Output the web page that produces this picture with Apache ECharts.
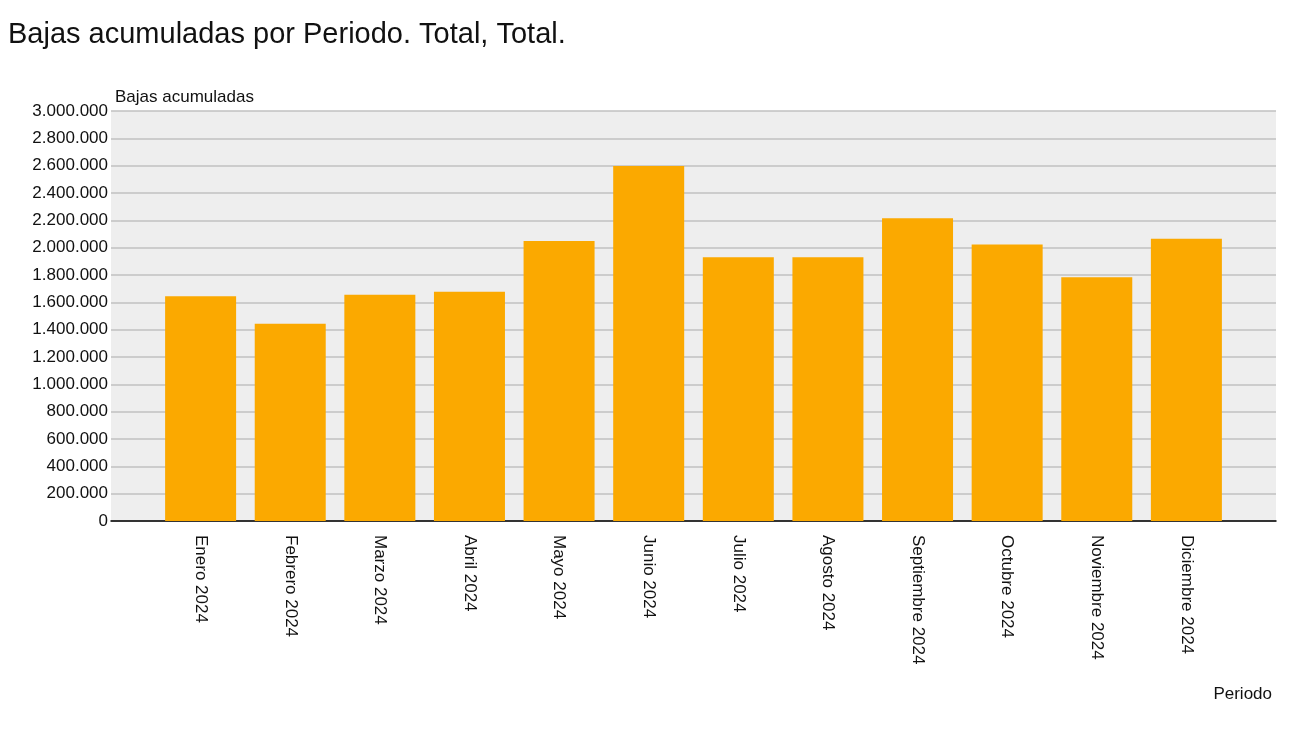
<!DOCTYPE html>
<html>
<head>
<meta charset="utf-8">
<script src="https://cdn.jsdelivr.net/npm/echarts@6/dist/echarts.min.js"></script>
<style>
html,body{margin:0;padding:0;background:#fff;}
#chart{width:1300px;height:741px;}
</style>
</head>
<body>
<div id="chart"></div>
<script>
const titleText = 'Bajas acumuladas por Periodo. Total, Total.';
const yAxisName = 'Bajas acumuladas';
const xAxisName = 'Periodo';
const categories = ['Enero 2024','Febrero 2024','Marzo 2024','Abril 2024','Mayo 2024','Junio 2024','Julio 2024','Agosto 2024','Septiembre 2024','Octubre 2024','Noviembre 2024','Diciembre 2024'];
const values = [1644000,1444000,1656000,1678000,2048000,2597000,1929000,1929000,2215000,2024000,1783000,2066000];
const yMin = 0, yMax = 3000000, yStep = 200000;

// pad with empty slots at both ends (reference has a half-gap layout)
const axisCats = [''].concat(categories, ['']);
const axisVals = [null].concat(values, [null]);

const fmt = v => String(v).replace(/\B(?=(\d{3})+(?!\d))/g, '.');
const FONT = 'Liberation Sans, Arial, sans-serif';

const chart = echarts.init(document.getElementById('chart'), null, {renderer:'canvas'});
chart.setOption({
  animation:false,
  backgroundColor:'#ffffff',
  title:{
    text:titleText, left:8, top:20, padding:0,
    textStyle:{fontFamily:FONT, fontSize:29, fontWeight:'normal', color:'#111111'}
  },
  grid:{left:111, right:24, top:111, bottom:220, show:true, backgroundColor:'#eeeeee', borderWidth:0},
  xAxis:{
    type:'category', data:axisCats, boundaryGap:false,
    name:xAxisName, nameLocation:'end', nameGap:0,
    nameTextStyle:{fontFamily:FONT, fontSize:17, color:'#111111', align:'right', verticalAlign:'top', padding:[165,4,0,0]},
    axisLine:{show:true, lineStyle:{color:'#000', width:1.5}},
    axisTick:{show:false},
    splitLine:{show:false},
    axisLabel:{interval:0, rotate:-90, margin:14, fontFamily:FONT, fontSize:17, color:'#111111'}
  },
  yAxis:{
    type:'value', min:yMin, max:yMax, interval:yStep,
    name:yAxisName, nameLocation:'end', nameGap:5,
    nameTextStyle:{fontFamily:FONT, fontSize:17, color:'#111111', align:'left', verticalAlign:'bottom', padding:[0,0,0,4]},
    axisLine:{show:false}, axisTick:{show:false},
    splitLine:{show:true, lineStyle:{color:'#c0c0c0', width:1.5}},
    axisLabel:{margin:3, formatter:fmt, fontFamily:FONT, fontSize:17, color:'#111111'}
  },
  series:[{
    type:'bar', data:axisVals, barWidth:71,
    itemStyle:{color:'#fba900'}
  }]
});
</script>
</body>
</html>
